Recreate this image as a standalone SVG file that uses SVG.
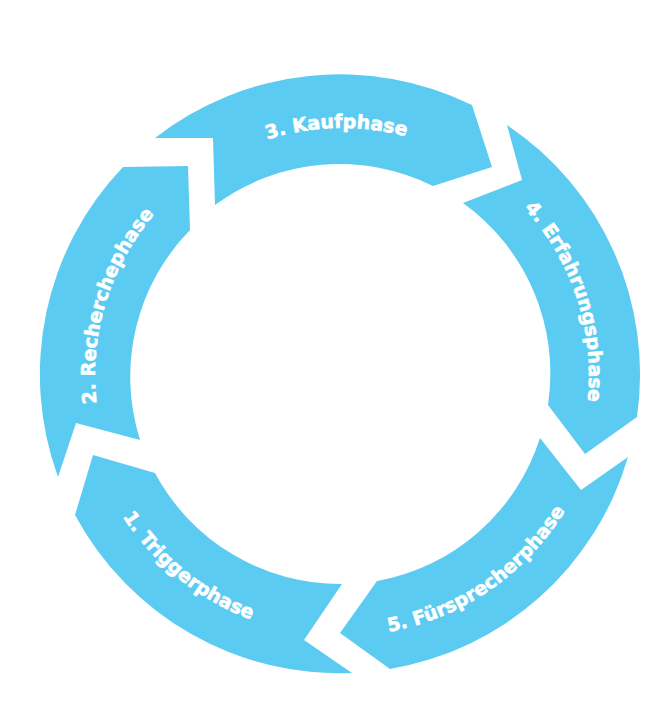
<svg xmlns="http://www.w3.org/2000/svg" xmlns:xlink="http://www.w3.org/1999/xlink" width="672" height="719" viewBox="0 0 672 719">
  <style>
    .seg { fill: #5CCBF2; stroke: none; }
    .lbl { fill: #FFFFFF; stroke: #FFFFFF; stroke-width: 0.6px; stroke-linejoin: round; font-family: "DejaVu Sans", "Liberation Sans", sans-serif; font-weight: bold; font-size: 19px; }
  </style>
  <defs>
    <path id="tp1" d="M 86.0 425.7 A 261 261 0 0 0 347.5 635.9" fill="none"/>
    <path id="tp2" d="M 114.6 471.5 A 247 247 0 0 1 207.5 167.8" fill="none"/>
    <path id="tp3" d="M 179.0 189.4 A 247 247 0 0 1 496.4 182.2" fill="none"/>
    <path id="tp4" d="M 472.2 165.1 A 247 247 0 0 1 571.3 466.7" fill="none"/>
    <path id="tp5" d="M 317.0 634.8 A 261 261 0 0 0 593.5 444.7" fill="none"/>
  </defs>
  <rect width="672" height="719" fill="#FFFFFF"/>
  <g id="connectors"></g>
  <g id="phase1">
    <path class="seg" d="M 352 673 A 300 300 0 0 1 75 515 L 93 455 L 155 473 A 210 210 0 0 0 342 584 L 304 640 Z"/>
    <text class="lbl"><textPath xlink:href="#tp1" href="#tp1" startOffset="50%" text-anchor="middle">1. Triggerphase</textPath></text>
  </g>
  <g id="phase2">
    <path class="seg" d="M 58 477 A 300 300 0 0 1 123 167 L 188 166 L 190 230 A 210 210 0 0 0 140 440 L 76 423 Z"/>
    <text class="lbl"><textPath xlink:href="#tp2" href="#tp2" startOffset="50%" text-anchor="middle">2. Recherchephase</textPath></text>
  </g>
  <g id="phase3">
    <path class="seg" d="M 155 138 A 300 300 0 0 1 472 105 L 492 167 L 433 186 A 210 210 0 0 0 215 205 L 213 138 Z"/>
    <text class="lbl"><textPath xlink:href="#tp3" href="#tp3" startOffset="50%" text-anchor="middle">3. Kaufphase</textPath></text>
  </g>
  <g id="phase4">
    <path class="seg" d="M 507 125 A 300 300 0 0 1 637 417 L 585 454 L 548 405 A 210 210 0 0 0 463 203 L 522 180 Z"/>
    <text class="lbl"><textPath xlink:href="#tp4" href="#tp4" startOffset="50%" text-anchor="middle">4. Erfahrungsphase</textPath></text>
  </g>
  <g id="phase5">
    <path class="seg" d="M 628 457 A 300 300 0 0 1 390 669 L 340 633 L 377 581 A 210 210 0 0 0 540 438 L 581 490 Z"/>
    <text class="lbl"><textPath xlink:href="#tp5" href="#tp5" startOffset="50%" text-anchor="middle">5. Fürsprecherphase</textPath></text>
  </g>
</svg>
